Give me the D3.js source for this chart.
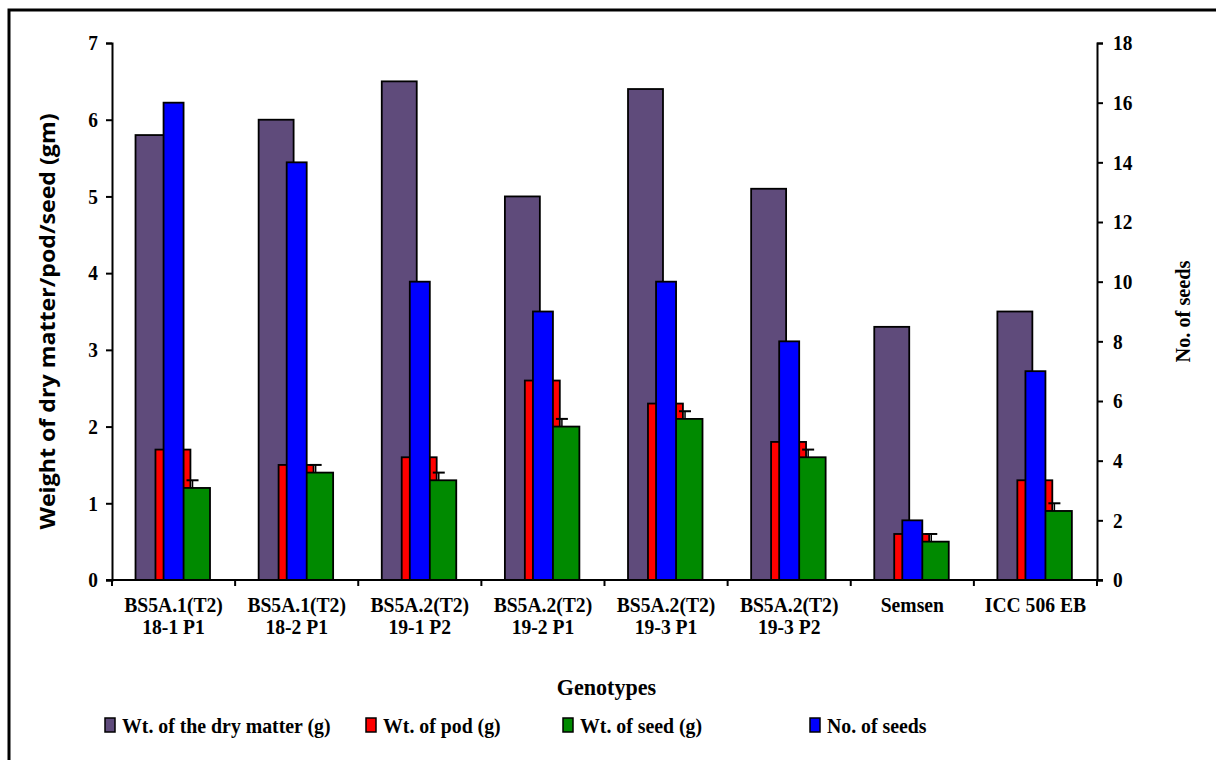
<!DOCTYPE html>
<html>
<head>
<meta charset="utf-8">
<script src="https://cdn.jsdelivr.net/npm/d3@7"></script>
<style>
  body { margin: 0; background: #fff; }
  svg { display: block; }
</style>
</head>
<body>
<svg id="chart" width="1216" height="760"></svg>
<script>
// genotypes, two lines per label
var genotypes = ["BS5A.1(T2)|18-1 P1", "BS5A.1(T2)|18-2 P1", "BS5A.2(T2)|19-1 P2", "BS5A.2(T2)|19-2 P1",
                 "BS5A.2(T2)|19-3 P1", "BS5A.2(T2)|19-3 P2", "Semsen", "ICC 506 EB"];
var dryMatter = [5.8, 6.0, 6.5, 5.0, 6.4, 5.1, 3.3, 3.5];
var podWt = [1.7, 1.5, 1.6, 2.6, 2.3, 1.8, 0.6, 1.3];
var seedWt = [1.2, 1.4, 1.3, 2.0, 2.1, 1.6, 0.5, 0.9];
var seedWtErr = [0.1, 0.1, 0.1, 0.1, 0.1, 0.1, 0.1, 0.1];
var seedCount = [16, 14, 10, 9, 10, 8, 2, 7];
var leftTicks = [0, 1, 2, 3, 4, 5, 6, 7];
var rightTicks = [0, 2, 4, 6, 8, 10, 12, 14, 16, 18];
var legendNames = ["Wt. of the dry matter (g)", "Wt. of pod (g)", "Wt. of seed (g)", "No. of seeds"];

var colors = { dry: "#5f4b7b", pod: "#ff0000", seed: "#008a00", count: "#0000ff" };
var serif = "'Liberation Serif', 'Times New Roman', serif";

// the original's lettering is a bit taller than it is wide
function squeeze(sel, k) {
    sel.each(function () {
        var len = this.getComputedTextLength();
        d3.select(this).attr("textLength", len * k).attr("lengthAdjust", "spacingAndGlyphs");
    });
}

var svg = d3.select("#chart");

// outer frame (runs off the right/bottom edge like the original)
svg.append("rect").attr("x", 9).attr("y", 10).attr("width", 1300).attr("height", 900)
    .attr("fill", "none").attr("stroke", "#000").attr("stroke-width", 3);

var pLeft = 112, pRight = 1097, pTop = 43, pBottom = 580;

var x = d3.scaleBand().domain(genotypes).range([pLeft, pRight]);
var yL = d3.scaleLinear().domain([0, 7]).range([pBottom, pTop]);
var yR = d3.scaleLinear().domain([0, 18]).range([pBottom, pTop]);
var bw = x.bandwidth();

// primary bars overlap each other, secondary bar sits centred in the band
var primW = bw * 0.284;
var series = [
    { vals: dryMatter, color: colors.dry, off: 0.191 },
    { vals: podWt, color: colors.pod, off: 0.353 },
    { vals: seedWt, color: colors.seed, off: 0.512 }
];

var g = svg.append("g");

series.forEach(function (s) {
    g.selectAll(null).data(s.vals).enter().append("rect")
        .attr("x", function (d, i) { return x(genotypes[i]) + bw * s.off; })
        .attr("y", function (d) { return yL(d); })
        .attr("width", primW)
        .attr("height", function (d) { return pBottom - yL(d); })
        .attr("fill", s.color)
        .attr("stroke", "#000")
        .attr("stroke-width", 1.8);
});

// error bars on seed weight
var ebX = function (i) { return x(genotypes[i]) + bw * 0.512 + primW / 2; };
var eb = g.selectAll(null).data(seedWt).enter().append("g");
eb.append("line")
    .attr("x1", function (d, i) { return ebX(i); })
    .attr("x2", function (d, i) { return ebX(i); })
    .attr("y1", function (d) { return yL(d); })
    .attr("y2", function (d, i) { return yL(d + seedWtErr[i]); })
    .attr("stroke", "#000").attr("stroke-width", 1.5);
eb.append("line")
    .attr("x1", function (d, i) { return ebX(i) - 6; })
    .attr("x2", function (d, i) { return ebX(i) + 6; })
    .attr("y1", function (d, i) { return yL(d + seedWtErr[i]); })
    .attr("y2", function (d, i) { return yL(d + seedWtErr[i]); })
    .attr("stroke", "#000").attr("stroke-width", 2);

var secW = bw * 0.1625;
g.selectAll(null).data(seedCount).enter().append("rect")
    .attr("x", function (d, i) { return x(genotypes[i]) + (bw - secW) / 2; })
    .attr("y", function (d) { return yR(d); })
    .attr("width", secW)
    .attr("height", function (d) { return pBottom - yR(d); })
    .attr("fill", colors.count)
    .attr("stroke", "#000")
    .attr("stroke-width", 1.8);

// axes
var axL = svg.append("g").attr("transform", "translate(" + pLeft + ",0)")
    .call(d3.axisLeft(yL).tickValues(leftTicks).tickSize(6).tickPadding(8).tickFormat(d3.format("d")));
var axR = svg.append("g").attr("transform", "translate(" + pRight + ",0)")
    .call(d3.axisRight(yR).tickValues(rightTicks).tickSize(6).tickPadding(10).tickFormat(d3.format("d")));
[axL, axR].forEach(function (a) {
    a.select(".domain").attr("stroke-width", 2);
    a.selectAll(".tick line").attr("stroke-width", 2);
    a.selectAll("text").attr("font-family", serif).attr("font-weight", "bold")
        .attr("font-size", 21).attr("fill", "#000");
    squeeze(a.selectAll("text"), 0.92);
});

// category axis: ticks at the band edges
var xa = svg.append("g");
xa.append("line").attr("x1", pLeft - 6).attr("x2", pRight + 6).attr("y1", pBottom).attr("y2", pBottom)
    .attr("stroke", "#000").attr("stroke-width", 2);
var edges = genotypes.map(function (c) { return x(c); }).concat([pRight]);
xa.selectAll(null).data(edges).enter().append("line")
    .attr("x1", function (d) { return d; }).attr("x2", function (d) { return d; })
    .attr("y1", pBottom).attr("y2", pBottom + 6)
    .attr("stroke", "#000").attr("stroke-width", 2);

var lab = xa.selectAll(null).data(genotypes).enter().append("text")
    .attr("x", function (d) { return x(d) + bw / 2; })
    .attr("y", 612)
    .attr("text-anchor", "middle")
    .attr("font-family", serif).attr("font-weight", "bold").attr("font-size", 20);
lab.selectAll("tspan").data(function (d) { return d.split("|"); }).enter().append("tspan")
    .attr("x", function () { return d3.select(this.parentNode).attr("x"); })
    .attr("dy", function (d, i) { return i ? 22 : 0; })
    .text(function (d) { return d; });
squeeze(lab.selectAll("tspan"), 0.98);

// axis titles
var tl = svg.append("text")
    .attr("transform", "translate(55," + ((pTop + pBottom) / 2 + 10) + ") rotate(-90)")
    .attr("text-anchor", "middle")
    .attr("font-family", "'Open Sans', sans-serif").attr("font-weight", "bold").attr("font-size", 22)
    .text("Weight of dry matter/pod/seed (gm)");
tl.attr("textLength", 416).attr("lengthAdjust", "spacingAndGlyphs");

var tr = svg.append("text")
    .attr("transform", "translate(1190," + ((pTop + pBottom) / 2) + ") rotate(-90)")
    .attr("text-anchor", "middle")
    .attr("font-family", serif).attr("font-weight", "bold").attr("font-size", 22)
    .text("No. of seeds");
squeeze(tr, 0.92);

var tx = svg.append("text")
    .attr("x", (pLeft + pRight) / 2 + 2).attr("y", 695)
    .attr("text-anchor", "middle")
    .attr("font-family", serif).attr("font-weight", "bold").attr("font-size", 24)
    .text("Genotypes");
squeeze(tx, 0.92);

// legend
var legX = [105, 366, 563, 810];
var legColors = [colors.dry, colors.pod, colors.seed, colors.count];
var leg = svg.selectAll(".leg").data(legendNames).enter().append("g").attr("class", "leg")
    .attr("transform", function (d, i) { return "translate(" + legX[i] + ",725)"; });
leg.append("rect").attr("x", 0).attr("y", -7).attr("width", 10).attr("height", 14)
    .attr("fill", function (d, i) { return legColors[i]; })
    .attr("stroke", "#000").attr("stroke-width", 1.5);
var legText = leg.append("text").attr("x", 17).attr("y", 8)
    .attr("font-family", serif).attr("font-weight", "bold").attr("font-size", 22)
    .text(function (d) { return d; });
squeeze(legText, 0.9);
</script>
</body>
</html>
